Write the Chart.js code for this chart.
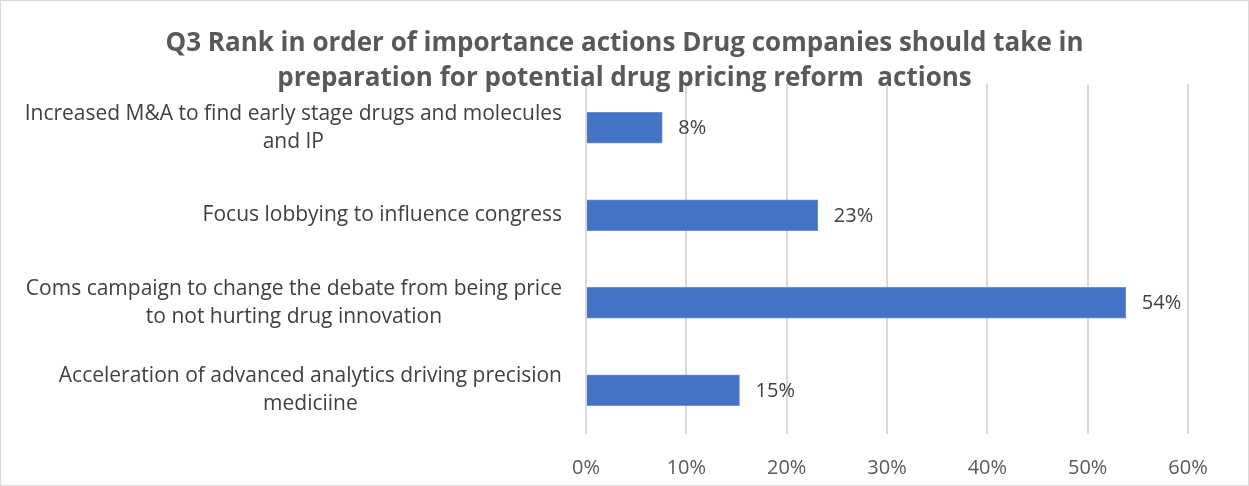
<!DOCTYPE html>
<html lang="en">
<head>
  <meta charset="UTF-8" />
  <title>Q3 drug pricing reform actions</title>
  <script src="https://cdn.jsdelivr.net/npm/chart.js"></script>
  <style>
    html, body { margin: 0; padding: 0; background: #fff; }
    .wrap {
      width: 1247px;
      height: 484px;
      border: 1px solid #d9d9d9;
      position: relative;
    }
  </style>
</head>
<body>
<div class="wrap"><canvas id="chart"></canvas></div>
<script>
  const categories = [
    ['Increased M&A to find early stage drugs and molecules', 'and IP'],
    ['Focus lobbying to influence congress'],
    ['Coms campaign to change the debate from being price', 'to not hurting drug innovation'],
    ['Acceleration of advanced analytics driving precision', 'mediciine']
  ];
  const shares = [7.6, 23.1, 53.8, 15.3];
  const xTicks = [0, 10, 20, 30, 40, 50, 60];
  const titleLines = [
    'Q3 Rank in order of importance actions Drug companies should take in',
    'preparation for potential drug pricing reform  actions'
  ];

  const FONT = "'Open Sans', 'Liberation Sans', sans-serif";

  // title centred on the whole canvas, overlapping the top of the grid like the original
  const chartTitle = {
    id: 'chartTitle',
    afterDraw(chart) {
      const ctx = chart.ctx;
      ctx.save();
      ctx.font = 'bold 26px ' + FONT;
      ctx.fillStyle = '#595959';
      ctx.textAlign = 'center';
      ctx.textBaseline = 'middle';
      ctx.fillText(titleLines[0], chart.width / 2, 43);
      ctx.fillText(titleLines[1], chart.width / 2, 78);
      ctx.restore();
    }
  };

  // category labels: block right-aligned to the axis, lines centred on each other
  const catLabels = {
    id: 'catLabels',
    afterDraw(chart) {
      const ctx = chart.ctx;
      const y = chart.scales.y;
      const right = chart.chartArea.left - 24;
      const lh = 28;
      ctx.save();
      ctx.font = '21px ' + FONT;
      ctx.fillStyle = '#404040';
      ctx.textAlign = 'center';
      ctx.textBaseline = 'middle';
      categories.forEach((lines, i) => {
        const w = Math.max(...lines.map(l => ctx.measureText(l).width));
        const cx = right - w / 2;
        const cy = y.getPixelForValue(i);
        lines.forEach((l, j) => {
          ctx.fillText(l, cx, cy + (j - (lines.length - 1) / 2) * lh);
        });
      });
      ctx.restore();
    }
  };

  // labels at the end of each bar
  const barLabels = {
    id: 'barLabels',
    afterDatasetsDraw(chart) {
      const ctx = chart.ctx;
      const meta = chart.getDatasetMeta(0);
      ctx.save();
      ctx.font = '20px ' + FONT;
      ctx.fillStyle = '#404040';
      ctx.textBaseline = 'middle';
      ctx.textAlign = 'left';
      meta.data.forEach((bar, i) => {
        ctx.fillText(Math.round(shares[i]) + '%', bar.x + 16, bar.y + 1);
      });
      ctx.restore();
    }
  };

  new Chart(document.getElementById('chart'), {
    type: 'bar',
    data: {
      labels: categories.map(c => c.join(' ')),
      datasets: [{
        data: shares,
        backgroundColor: '#4472C4',
        borderColor: '#6b8fd0',
        borderWidth: 1,
        barThickness: 31
      }]
    },
    options: {
      indexAxis: 'y',
      responsive: true,
      maintainAspectRatio: false,
      animation: false,
      layout: { padding: { left: 0, right: 60, top: 83, bottom: 6 } },
      plugins: {
        legend: { display: false },
        tooltip: { enabled: false },
        title: { display: false }
      },
      scales: {
        x: {
          min: 0,
          max: 60,
          afterBuildTicks(scale) {
            scale.ticks = xTicks.map(v => ({ value: v }));
          },
          afterFit(scale) { scale.height = 45; },
          grid: { color: '#d9d9d9', lineWidth: 2, drawTicks: false },
          border: { display: false },
          ticks: {
            color: '#595959',
            font: { family: FONT, size: 20 },
            padding: 22,
            callback: v => v + '%'
          }
        },
        y: {
          afterFit(scale) { scale.width = 585; },
          grid: { display: false },
          border: { display: false },
          ticks: { display: false }
        }
      }
    },
    plugins: [barLabels, catLabels, chartTitle]
  });
</script>
</body>
</html>
